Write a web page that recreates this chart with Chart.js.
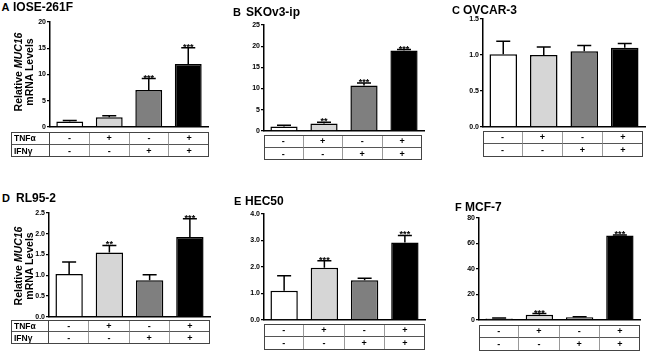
<!DOCTYPE html>
<html>
<head>
<meta charset="utf-8">
<script src="https://cdn.jsdelivr.net/npm/chart.js@4.4.1/dist/chart.umd.min.js"></script>
<style>
body { margin: 0; background: #fff; width: 650px; height: 351px; position: relative; overflow: hidden;
       font-family: "Liberation Sans", Arial, sans-serif; }
.title { position: absolute; font-weight: bold; font-size: 12px; line-height: 12px; white-space: nowrap; }
.letter { font-size: 11px; }
.ylab { position: absolute; width: 100px; height: 22px; font-weight: bold; font-size: 10.5px; line-height: 11px;
        text-align: center; white-space: nowrap; transform: rotate(-90deg); }
.cell { position: absolute; box-sizing: border-box; font-weight: bold; font-size: 9px; text-align: center; }
.box { position: absolute; box-sizing: border-box; border: 1px solid #444; }
</style>
</head>
<body>
<script>
// treatment groups and table rows
const groups = ['Control', 'TNFα', 'IFNγ', 'TNFα + IFNγ'];
const rowNames = ['TNFα', 'IFNγ'];
const tnfRow = ['-', '+', '-', '+'];
const ifnRow = ['-', '-', '+', '+'];

// A IOSE-261F
const ioseMean = [1.0, 1.8, 7.0, 12.0];
const ioseErr = [0.2, 0.3, 2.2, 3.1];
const ioseStars = ['', '', '***', '***'];

// B SKOv3-ip
const skovMean = [1.0, 1.7, 10.7, 19.0];
const skovErr = [0.3, 0.3, 0.6, 0.2];
const skovStars = ['', '**', '***', '***'];

// C OVCAR-3
const ovcarMean = [1.01, 1.0, 1.05, 1.10];
const ovcarErr = [0.18, 0.11, 0.08, 0.06];
const ovcarStars = ['', '', '', ''];

// D RL95-2
const rlMean = [1.03, 1.55, 0.88, 1.92];
const rlErr = [0.29, 0.17, 0.13, 0.44];
const rlStars = ['', '**', '', '***'];

// E HEC50
const hecMean = [1.1, 1.97, 1.5, 2.92];
const hecErr = [0.57, 0.26, 0.07, 0.27];
const hecStars = ['', '***', '', '***'];

// F MCF-7
const mcfMean = [1.0, 3.9, 2.0, 66.3];
const mcfErr = [0.4, 1.0, 0.4, 0.4];
const mcfStars = ['', '***', '', '***'];

const barColors = ['#ffffff', '#d6d6d6', '#7f7f7f', '#000000'];
const fontFam = '"Liberation Sans", Arial, sans-serif';

const panels = [
  { letter: 'A', name: 'IOSE-261F', mean: ioseMean, err: ioseErr, stars: ioseStars, max: 20, step: 5, dec: 0,
    axisX: 50, topY: 22, zeroY: 128, right: 208, tTop: 132, tBot: 157, tLeft: 11, tRight: 209,
    letterX: 1.5, nameX: 13, titleY: 0.5, yLab: [24, 72] },
  { letter: 'B', name: 'SKOv3-ip', mean: skovMean, err: skovErr, stars: skovStars, max: 25, step: 5, dec: 0,
    axisX: 264, topY: 25, zeroY: 132, right: 424, tTop: 135, tBot: 160, tRight: 422,
    letterX: 233, nameX: 246, titleY: 6 },
  { letter: 'C', name: 'OVCAR-3', mean: ovcarMean, err: ovcarErr, stars: ovcarStars, max: 1.5, step: 0.5, dec: 1,
    axisX: 483, topY: 19, zeroY: 128, right: 645, tTop: 131, tBot: 157, tRight: 643,
    letterX: 452, nameX: 463, titleY: 3.5 },
  { letter: 'D', name: 'RL95-2', mean: rlMean, err: rlErr, stars: rlStars, max: 2.5, step: 0.5, dec: 1,
    axisX: 49, topY: 213, zeroY: 318, right: 210, tTop: 320, tBot: 344, tLeft: 11, tRight: 210,
    letterX: 2, nameX: 16, titleY: 192, yLab: [24, 266] },
  { letter: 'E', name: 'HEC50', mean: hecMean, err: hecErr, stars: hecStars, max: 4, step: 1, dec: 1,
    axisX: 264, topY: 214, zeroY: 321, right: 425, tTop: 324, tBot: 350, tRight: 425,
    letterX: 234, nameX: 245, titleY: 195 },
  { letter: 'F', name: 'MCF-7', mean: mcfMean, err: mcfErr, stars: mcfStars, max: 80, step: 20, dec: 0,
    axisX: 479, topY: 218, zeroY: 321, right: 640, tTop: 325, tBot: 351, tRight: 640,
    letterX: 455, nameX: 465, titleY: 201 }
];

// error bars (upper only) with significance stars
const errorBars = {
  id: 'errorBars',
  afterDatasetsDraw(chart, args, opts) {
    const ctx = chart.ctx;
    const y = chart.scales.y;
    const meta = chart.getDatasetMeta(0);
    ctx.save();
    ctx.strokeStyle = '#000';
    ctx.fillStyle = '#000';
    ctx.lineWidth = 1.5;
    ctx.font = 'bold 9px ' + fontFam;
    ctx.textAlign = 'center';
    ctx.textBaseline = 'alphabetic';
    meta.data.forEach((bar, i) => {
      const v = chart.data.datasets[0].data[i];
      const yt = y.getPixelForValue(v + opts.err[i]);
      ctx.beginPath();
      ctx.moveTo(bar.x, bar.y);
      ctx.lineTo(bar.x, yt);
      ctx.moveTo(bar.x - 7, yt);
      ctx.lineTo(bar.x + 7, yt);
      ctx.stroke();
      if (opts.stars[i]) ctx.fillText(opts.stars[i], bar.x, yt + 2);
    });
    ctx.restore();
  }
};

function addDiv(cls, text, css) {
  const d = document.createElement('div');
  d.className = cls;
  d.textContent = text;
  d.style.cssText = css;
  document.body.appendChild(d);
  return d;
}

function drawTable(p) {
  const left = p.tLeft !== undefined ? p.tLeft : p.axisX;
  const rowH = (p.tBot - p.tTop) / 2;
  const cw = (p.tRight - p.axisX) / 4;
  const cols = [];
  if (p.tLeft !== undefined) cols.push({ x: p.tLeft, w: p.axisX - p.tLeft, texts: rowNames, label: true });
  for (let i = 0; i < 4; i++) cols.push({ x: p.axisX + i * cw, w: cw, texts: [tnfRow[i], ifnRow[i]] });
  cols.forEach((c, ci) => {
    c.texts.forEach((t, r) => {
      let css = `left:${c.x}px;top:${p.tTop + r * rowH}px;width:${c.w}px;height:${rowH}px;line-height:${rowH}px;`;
      if (ci < cols.length - 1) css += `border-right:1px solid ${c.label ? '#444' : '#999'};`;
      if (r === 0) css += 'border-bottom:1px solid #555;';
      if (c.label) css += 'text-align:left;padding-left:3px;font-size:8.5px;';
      addDiv('cell', t, css);
    });
  });
  addDiv('box', '', `left:${left}px;top:${p.tTop}px;width:${p.tRight - left}px;height:${p.tBot - p.tTop}px;`);
}

panels.forEach(p => {
  const padTop = 14, padBottom = 4, padRight = 3, yW = 30;
  const w = yW + (p.right - p.axisX) + padRight;
  const h = padTop + (p.zeroY - p.topY) + padBottom;
  const c = document.createElement('canvas');
  c.width = w;
  c.height = h;
  c.style.cssText = `position:absolute;left:${p.axisX - yW}px;top:${p.topY - padTop}px;width:${w}px;height:${h}px;`;
  document.body.appendChild(c);

  new Chart(c, {
    type: 'bar',
    data: {
      labels: groups,
      datasets: [{
        data: p.mean,
        backgroundColor: barColors,
        borderColor: '#000',
        borderWidth: 1.5,
        barPercentage: 0.68,
        categoryPercentage: 1
      }]
    },
    options: {
      responsive: false,
      animation: false,
      devicePixelRatio: 1,
      layout: { padding: { top: padTop, bottom: padBottom, left: 0, right: padRight } },
      plugins: {
        legend: { display: false },
        tooltip: { enabled: false },
        errorBars: { err: p.err, stars: p.stars }
      },
      scales: {
        x: {
          grid: { display: false },
          ticks: { display: false },
          border: { display: true, color: '#000', width: 1.5 },
          afterFit: s => { s.height = 0; }
        },
        y: {
          min: 0,
          max: p.max,
          grid: { display: true, drawOnChartArea: false, drawTicks: true, tickLength: 3, color: '#000', lineWidth: 1.2 },
          border: { color: '#000', width: 1.5 },
          ticks: {
            stepSize: p.step,
            padding: 1,
            color: '#000',
            font: { family: fontFam, size: 7, weight: 'bold' },
            callback: v => v.toFixed(p.dec)
          },
          afterFit: s => { s.width = yW; }
        }
      }
    },
    plugins: [errorBars]
  });

  addDiv('title letter', p.letter, `left:${p.letterX}px;top:${p.titleY}px;`);
  addDiv('title', p.name, `left:${p.nameX}px;top:${p.titleY}px;`);
  drawTable(p);

  if (p.yLab) {
    const d = document.createElement('div');
    d.className = 'ylab';
    d.style.left = (p.yLab[0] - 50) + 'px';
    d.style.top = (p.yLab[1] - 11) + 'px';
    d.innerHTML = 'Relative <i>MUC16</i><br>mRNA Levels';
    document.body.appendChild(d);
  }
});
</script>
</body>
</html>
